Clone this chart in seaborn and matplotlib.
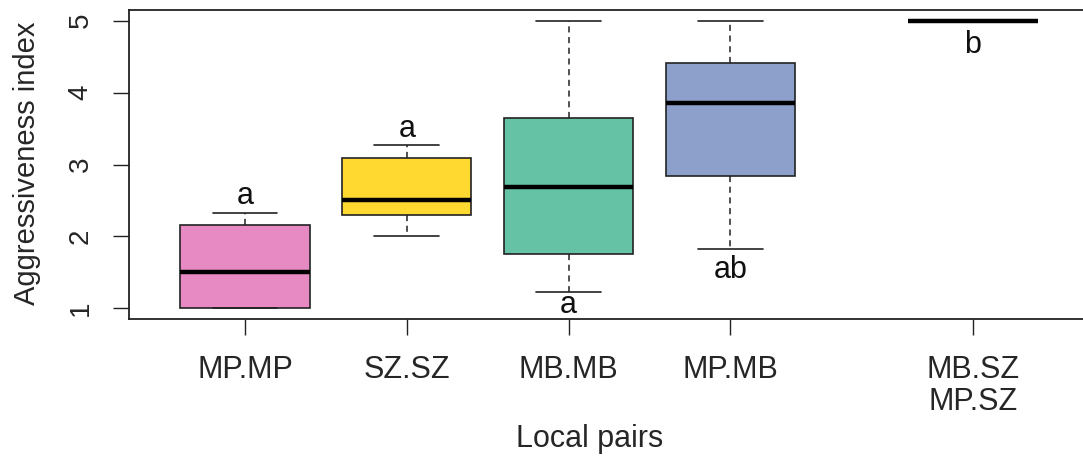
import numpy as np
import pandas as pd
import matplotlib
matplotlib.use("Agg")
import matplotlib.pyplot as plt
import seaborn as sns
from matplotlib import font_manager

# ---- data (five-number summaries) ----
pairs = ["MP.MP", "SZ.SZ", "MB.MB", "MP.MB", "MB.SZ\nMP.SZ"]
positions = [1, 2, 3, 4, 5.5]
mp_mp = [1.00, 1.00, 1.51, 2.16, 2.32]
sz_sz = [2.00, 2.30, 2.50, 3.09, 3.27]
mb_mb = [1.23, 1.76, 2.69, 3.64, 5.00]
mp_mb = [1.83, 2.84, 3.85, 4.41, 5.00]
mixed = [5.00, 5.00, 5.00, 5.00, 5.00]
group_values = [mp_mp, sz_sz, mb_mb, mp_mb, mixed]
letters = ["a", "a", "a", "ab", "b"]
letter_y = [2.56, 3.50, 1.05, 1.53, 4.66]
colors = ["#E78AC3", "#FFD92F", "#66C2A5", "#8DA0CB", "#A6D854"]

rows = []
for lab, pos, vals in zip(pairs, positions, group_values):
    for v in vals:
        rows.append({"pair": lab, "pos": pos, "value": v})
df = pd.DataFrame(rows)

sns.set_style("white")
installed = {f.name for f in font_manager.fontManager.ttflist}
fam = ["Liberation Sans Narrow"] if "Liberation Sans Narrow" in installed else ["Liberation Sans"]
plt.rcParams["font.family"] = fam + ["DejaVu Sans"]

fig = plt.figure(figsize=(10.83, 4.57), dpi=100)
ax = fig.add_axes([129 / 1083, 1 - 319.3 / 457, (1089.5 - 129) / 1083, (319.3 - 10) / 457])

edge = "#222222"
sns.boxplot(
    data=df, x="pos", y="value", hue="pair", hue_order=pairs,
    palette=colors, saturation=1, native_scale=True, dodge=False, width=0.8,
    whis=np.inf, linewidth=1.2, linecolor=edge, legend=False, ax=ax,
    medianprops=dict(color="black", linewidth=3.2, solid_capstyle="butt"),
    whiskerprops=dict(color=edge, linestyle=(0, (4, 3)), linewidth=1.1),
    capprops=dict(color=edge, linewidth=1.2),
    boxprops=dict(edgecolor=edge, linewidth=1.2),
)

for pos, lab, ly in zip(positions, letters, letter_y):
    ax.text(pos, ly, lab, ha="center", va="center", fontsize=22, color="#111111")

ax.set_xlim(0.283, 6.22)
ax.set_ylim(0.847, 5.149)
ax.set_xticks(positions)
ax.set_xticklabels(pairs, fontsize=22, linespacing=1.1)
ax.set_yticks([1, 2, 3, 4, 5])
ax.set_yticklabels(["1", "2", "3", "4", "5"], fontsize=20, rotation=90, va="center")
ax.tick_params(axis="both", direction="out", length=11.5, width=1.0, color="#222222",
               left=True, bottom=True)
ax.tick_params(axis="x", pad=14)
ax.tick_params(axis="y", pad=14)
for s in ax.spines.values():
    s.set_visible(True)
    s.set_color("#222222")
    s.set_linewidth(1.3)

ax.set_xlabel("")
ax.set_ylabel("")
fig.text(590 / 1083, 1 - 439 / 457, "Local pairs", ha="center", va="center", fontsize=22)
fig.text(27 / 1083, 1 - 163 / 457, "Aggressiveness index", ha="center", va="center",
         rotation=90, fontsize=21)

fig.savefig("out.png", dpi=100)
